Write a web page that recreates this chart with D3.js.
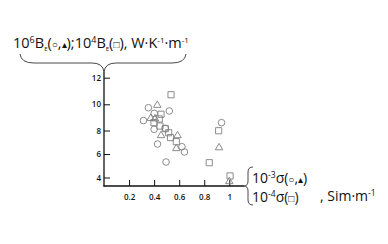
<!DOCTYPE html>
<html lang="en">
  <head>
    <meta charset="utf-8" />
    <title>B_E vs sigma</title>
    <script type="text/javascript" src="https://cdn.jsdelivr.net/npm/d3@7"></script>
    <style type="text/css">
      body { margin: 0; background: #fff; }
      text { font-family: "Open Sans", sans-serif; fill: #111; }
    </style>
  </head>

  <body>
    <script type="text/javascript">
      // sigma (x) and B_E (y) per marker type
      const circleX = [0.315, 0.354, 0.401, 0.521, 0.4, 0.489, 0.427, 0.622, 0.642, 0.495, 0.938];
      const circleY = [8.76, 9.74, 9.31, 9.49, 8.09, 8.17, 6.85, 6.62, 6.17, 5.32, 8.6];

      const triX = [0.425, 0.373, 0.407, 0.455, 0.587, 0.577, 0.918, 1.0];
      const triY = [9.93, 8.93, 8.9, 7.57, 7.57, 6.47, 6.54, 3.66];

      const squareX = [0.535, 0.455, 0.441, 0.399, 0.447, 0.489, 0.516, 0.531, 0.577, 0.84, 0.915, 1.006];
      const squareY = [10.72, 9.24, 8.88, 8.6, 8.34, 8.14, 7.81, 7.4, 7.05, 5.26, 7.98, 4.13];

      const xTicks = [0.2, 0.4, 0.6, 0.8, 1];
      const yTicks = [4, 6, 8, 10, 12];

      const W = 388, H = 244;
      const svg = d3.select("body").append("svg").attr("width", W).attr("height", H);

      // scales (hand drawn axis, so y is a bit uneven)
      const x = d3.scaleLinear().domain([0, 1]).range([104, 229.3]);
      const y = d3.scaleLinear().domain([4, 6, 8, 10, 12]).range([177.5, 154, 130.5, 104.3, 77.7]);

      const axisX0 = 104, axisY0 = 186, axisTop = 72, axisRight = 244;

      // axis lines
      svg.append("line")
        .attr("x1", axisX0).attr("x2", axisX0)
        .attr("y1", axisTop).attr("y2", axisY0 + 0.5)
        .attr("stroke", "#111").attr("stroke-width", 1.3);
      svg.append("line")
        .attr("x1", axisX0 - 0.5).attr("x2", axisRight)
        .attr("y1", axisY0).attr("y2", axisY0)
        .attr("stroke", "#111").attr("stroke-width", 1.3);

      // y ticks point inward
      const gy = svg.append("g")
        .attr("transform", "translate(" + axisX0 + ",0)")
        .call(d3.axisLeft(y).tickValues(yTicks).tickSizeInner(-6).tickSizeOuter(0).tickPadding(3));
      gy.select(".domain").remove();
      gy.selectAll("line").attr("stroke", "#111").attr("stroke-width", 1);
      gy.selectAll("text").style("font-size", "8px").style("font-weight", 600).attr("fill", "#111");

      const gx = svg.append("g")
        .attr("transform", "translate(0," + axisY0 + ")")
        .call(d3.axisBottom(x).tickValues(xTicks).tickFormat(d => String(d)).tickSizeInner(-6).tickSizeOuter(0).tickPadding(8));
      gx.select(".domain").remove();
      gx.selectAll("line").attr("stroke", "#111").attr("stroke-width", 1);
      gx.selectAll("text").style("font-size", "8px").style("font-weight", 600).attr("fill", "#111");

      const markColor = "#808080";

      // circles
      svg.selectAll(".c").data(circleX).enter().append("circle")
        .attr("class", "c")
        .attr("cx", (d) => x(d))
        .attr("cy", (d, i) => y(circleY[i]))
        .attr("r", 3.3)
        .attr("fill", "none").attr("stroke", markColor).attr("stroke-width", 0.9);

      // triangles
      const triPath = d3.symbol().type(d3.symbolTriangle).size(24);
      svg.selectAll(".t").data(triX).enter().append("path")
        .attr("class", "t")
        .attr("d", triPath)
        .attr("transform", (d, i) => "translate(" + x(d) + "," + y(triY[i]) + ")")
        .attr("fill", "none").attr("stroke", markColor).attr("stroke-width", 0.9);

      // squares
      svg.selectAll(".s").data(squareX).enter().append("path")
        .attr("class", "s")
        .attr("d", d3.symbol().type(d3.symbolSquare).size(38))
        .attr("transform", (d, i) => "translate(" + x(d) + "," + y(squareY[i]) + ")")
        .attr("fill", "none").attr("stroke", markColor).attr("stroke-width", 0.9);

      // rich text helper: [text, baseline shift, font size]
      function richText(tx, ty, size, list) {
        const t = svg.append("text").attr("x", tx).attr("y", ty).style("font-size", size + "px");
        let s = 0;
        list.forEach(function (p) {
          t.append("tspan").attr("dy", p[1] - s).style("font-size", p[2] ? p[2] + "px" : null).text(p[0]);
          s = p[1];
        });
      }

      // y label with brace
      richText(13, 48, 14.5, [
        ["10", 0], ["6", -5, 9], ["B", 0], ["E", 3, 6], ["(", 0], ["○", 0, 10], [",", 0], ["▴", 0, 10], [");10", 0],
        ["4", -5, 9], ["B", 0], ["E", 3, 6], ["(", 0], ["□", 0, 10], ["), W·K", 0], ["-1", -5, 8], ["·m", 0], ["-1", -5, 8]
      ]);

      svg.append("path")
        .attr("d", "M20,54 Q21,63 34,63 L92,63 Q103,63 104,72 Q105,63 116,63 L172,63 Q185,63 186,54")
        .attr("fill", "none").attr("stroke", "#333").attr("stroke-width", 0.9);

      // x label with brace
      svg.append("path")
        .attr("d", "M253,167 Q248,167 248,172 L248,181 Q248,186 244,186 Q248,186 248,191 L248,200 Q248,205 253,205")
        .attr("fill", "none").attr("stroke", "#333").attr("stroke-width", 0.9);

      richText(252, 183, 14, [["10", 0], ["-3", -5, 8.5], ["σ(", 0], ["○", 0, 10], [",", 0], ["▴", 0, 10], [")", 0]]);
      richText(252, 202, 14, [["10", 0], ["-4", -5, 8.5], ["σ(", 0], ["□", 0, 10], [")", 0]]);
      richText(320, 201, 14, [[", Sim·m", 0], ["-1", -5, 8.5]]);
    </script>
  </body>
</html>
